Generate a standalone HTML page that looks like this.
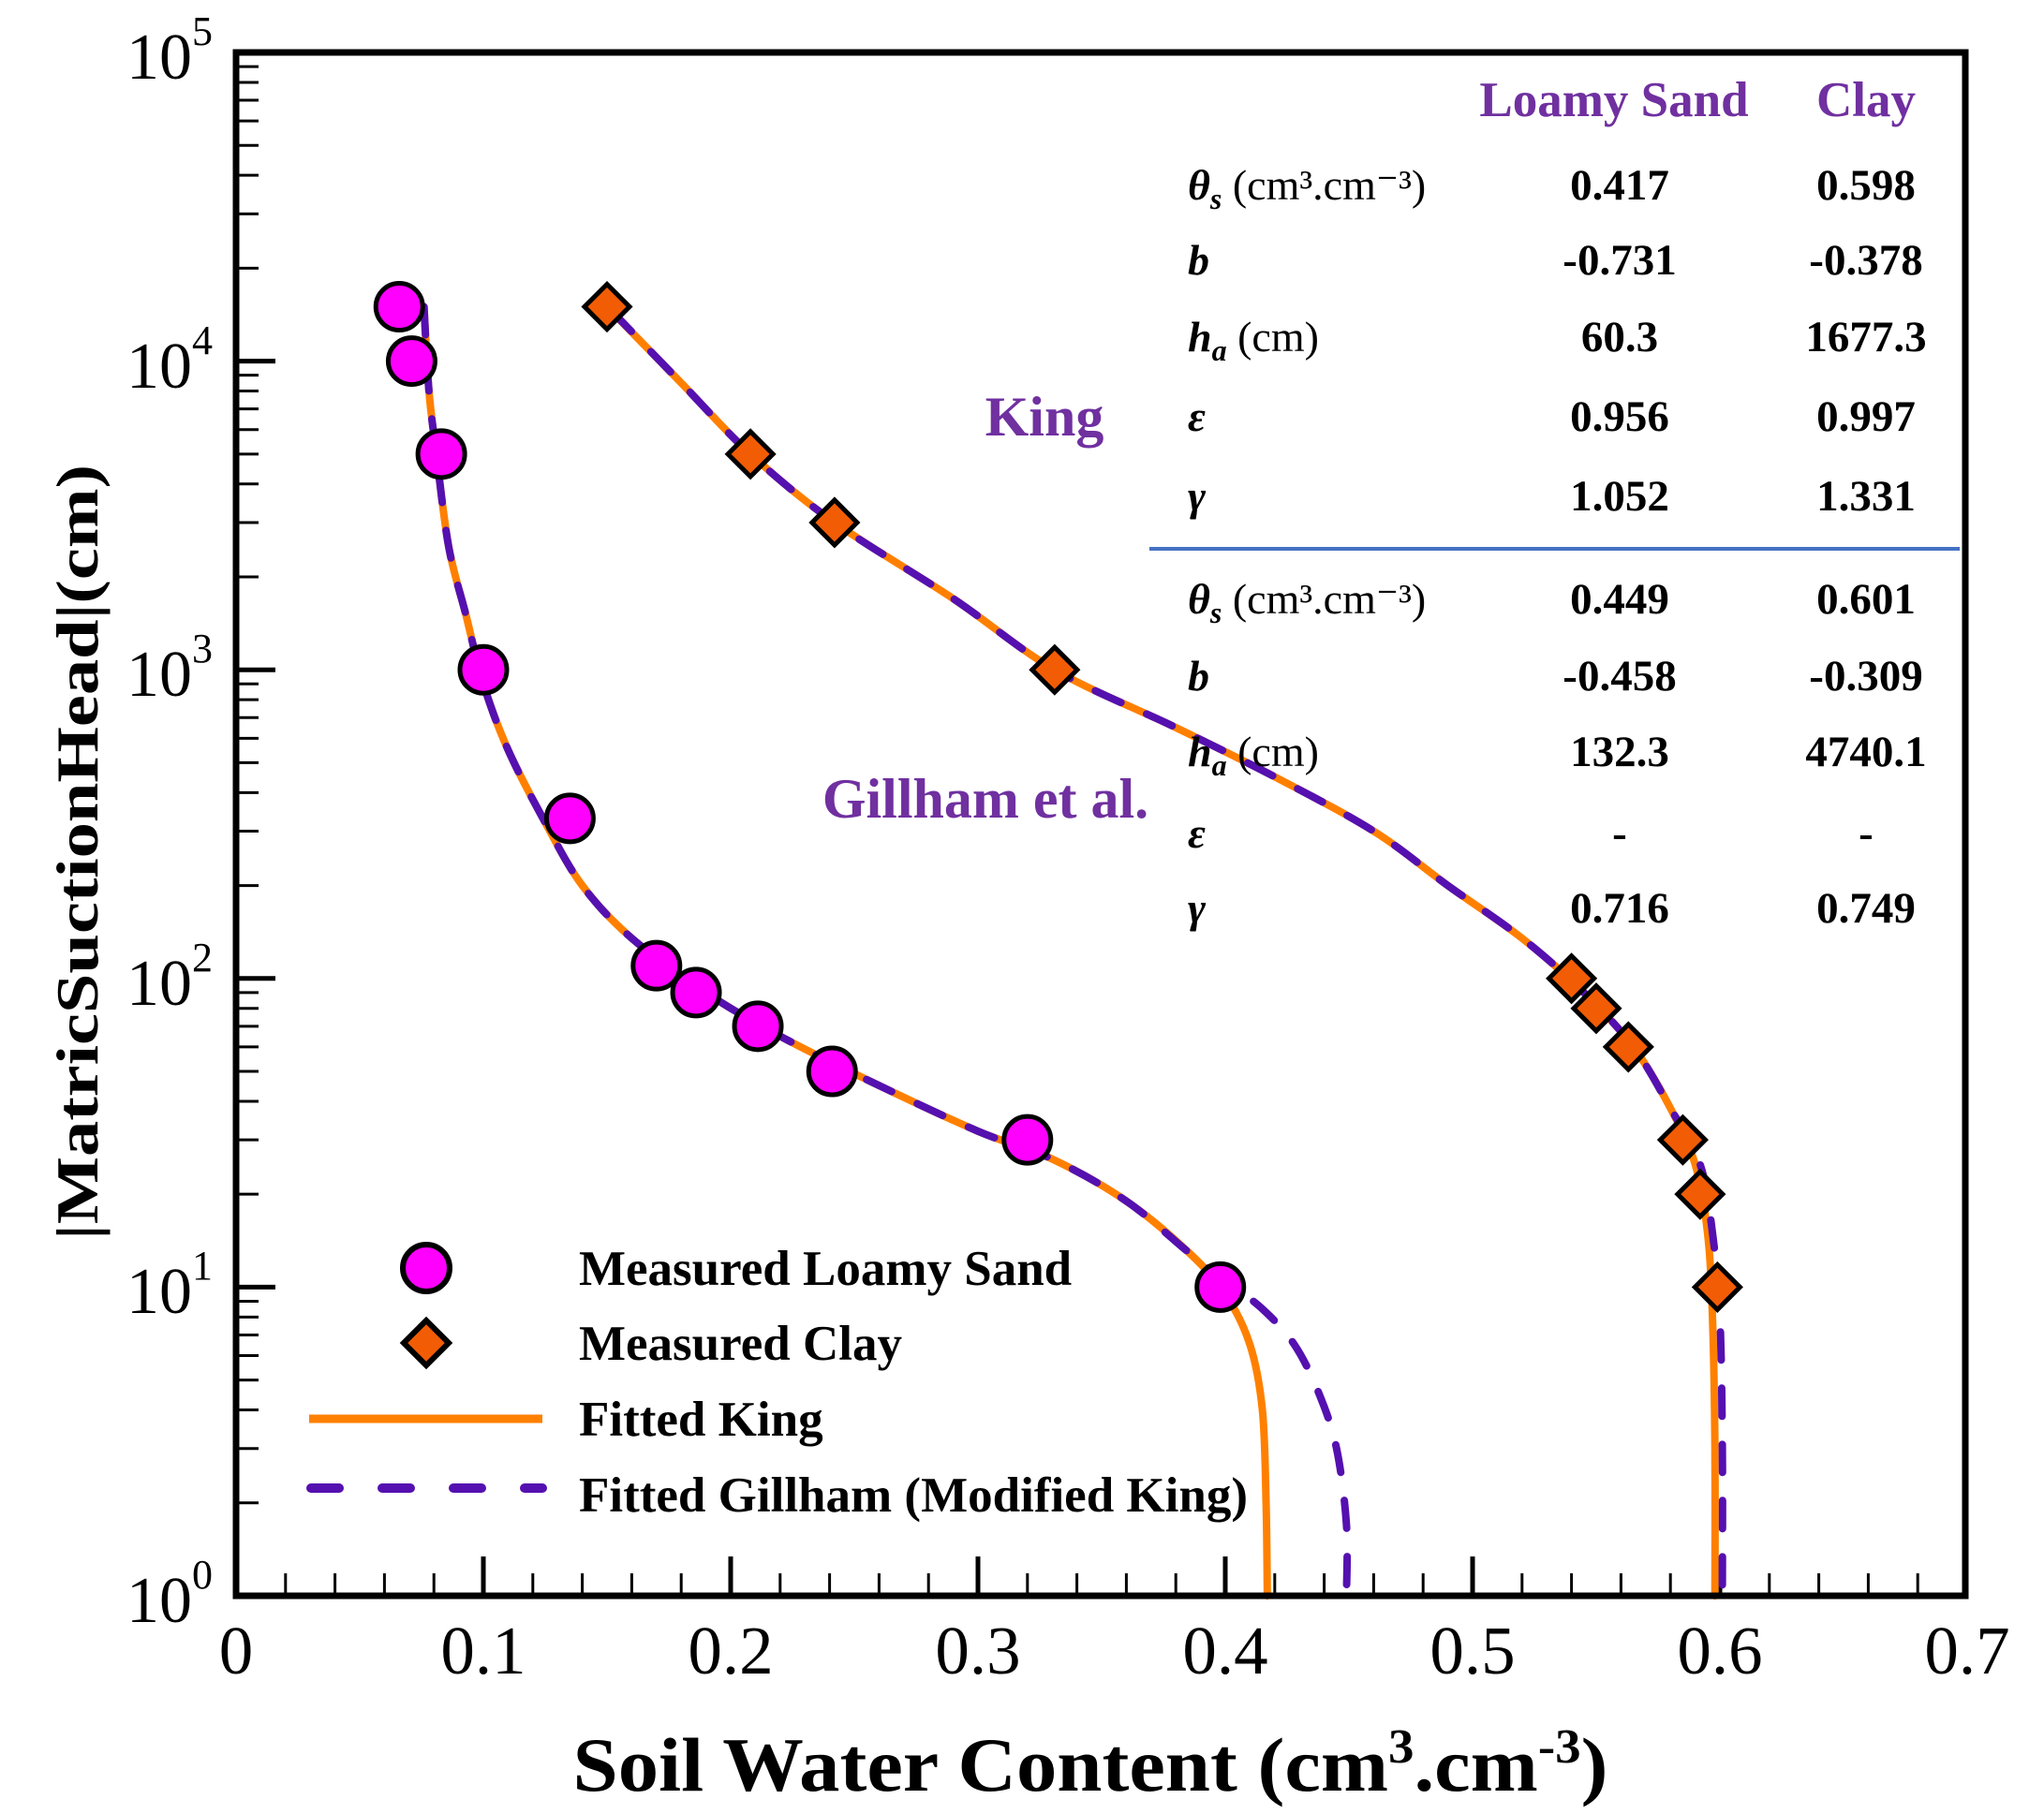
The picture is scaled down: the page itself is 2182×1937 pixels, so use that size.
<!DOCTYPE html>
<html><head><meta charset="utf-8">
<style>html,body{margin:0;padding:0;background:#fff;}svg{display:block;}
text{font-family:"Liberation Serif",serif;}</style></head>
<body>
<svg id="s" width="2182" height="1937" viewBox="0 0 2182 1937" xmlns="http://www.w3.org/2000/svg">
<rect width="2182" height="1937" fill="#fff"/>
<g id="ticks" stroke="#000"></g>
<g id="curves" fill="none" stroke-linecap="round" stroke-linejoin="round"></g>
<g id="marks" stroke="#000" stroke-width="5"></g>
<rect x="252" y="56" width="1846" height="1648" fill="none" stroke="#000" stroke-width="7"/>

<g font-size="73" text-anchor="middle" fill="#000">
<text x="252" y="1787">0</text><text x="516" y="1787">0.1</text><text x="780" y="1787">0.2</text>
<text x="1044" y="1787">0.3</text><text x="1308" y="1787">0.4</text><text x="1572" y="1787">0.5</text>
<text x="1836" y="1787">0.6</text><text x="2100" y="1787">0.7</text>
</g>
<g font-size="70" fill="#000">
<text x="135" y="1732">10<tspan font-size="44" dy="-36">0</tspan></text>
<text x="135" y="1402">10<tspan font-size="44" dy="-36">1</tspan></text>
<text x="135" y="1073">10<tspan font-size="44" dy="-36">2</tspan></text>
<text x="135" y="743">10<tspan font-size="44" dy="-36">3</tspan></text>
<text x="135" y="414">10<tspan font-size="44" dy="-36">4</tspan></text>
<text x="135" y="84">10<tspan font-size="44" dy="-36">5</tspan></text>
</g>
<text x="1164" y="1912" font-size="82" font-weight="bold" text-anchor="middle" textLength="1105" lengthAdjust="spacingAndGlyphs">Soil Water Content (cm<tspan font-size="52" dy="-30">3</tspan><tspan dy="30">.cm</tspan><tspan font-size="52" dy="-30">-3</tspan><tspan dy="30">)</tspan></text>
<text transform="translate(104,910) rotate(-90)" font-size="64" font-weight="bold" text-anchor="middle" textLength="828" lengthAdjust="spacingAndGlyphs">|MatricSuctionHead|(cm)</text>

<g font-size="53" font-weight="bold" fill="#7030a0" text-anchor="middle">
<text x="1723" y="124">Loamy Sand</text><text x="1992" y="124">Clay</text>
</g>
<g font-size="60" font-weight="bold" fill="#7030a0" text-anchor="middle">
<text x="1115" y="465">King</text><text x="1052" y="873">Gillham et al.</text>
</g>
<line x1="1227" y1="586" x2="2092" y2="586" stroke="#4472c4" stroke-width="4"/>
<g font-size="44" fill="#000" id="tbl"></g>

<circle cx="455" cy="1354" r="25" fill="#ff00ff" stroke="#000" stroke-width="6"/>
<rect x="438" y="1417" width="34" height="34" fill="#f25c05" stroke="#000" stroke-width="6" transform="rotate(45 455 1434)"/>
<line x1="330" y1="1515" x2="579" y2="1515" stroke="#ff8000" stroke-width="9"/>
<line x1="332" y1="1589" x2="579" y2="1589" stroke="#5510b0" stroke-width="10" stroke-dasharray="30 46" stroke-linecap="round"/>
<g font-size="53" font-weight="bold" fill="#000">
<text x="618" y="1372">Measured Loamy Sand</text>
<text x="618" y="1452">Measured Clay</text>
<text x="618" y="1533">Fitted King</text>
<text x="618" y="1614">Fitted Gillham (Modified King)</text>
</g>
</svg>
<script>
const NS="http://www.w3.org/2000/svg";
const X=t=>252+t*2640, Y=h=>1704-329.6*Math.log10(h);
function el(p,tag,a){const e=document.createElementNS(NS,tag);for(const k in a)e.setAttribute(k,a[k]);p.appendChild(e);return e;}
const tk=document.getElementById('ticks');
for(let i=0;i<=35;i++){const x=252+i*52.8;const maj=i%5==0;if(i==0||i==35)continue;
 el(tk,'line',{x1:x,x2:x,y1:1704,y2:maj?1662:1680,'stroke-width':maj?5:3});}
for(let d=0;d<5;d++)for(let m=1;m<=9;m++){const y=Y(m*Math.pow(10,d));const maj=m==1;if(d==0&&m==1)continue;
 el(tk,'line',{x1:252,x2:maj?294:276,y1:y,y2:y,'stroke-width':maj?5:3});}
function path(pts){let s=pts.map(p=>[X(p[0]),Y(p[1])]);
 let d='M'+s[0][0]+','+s[0][1];
 for(let i=0;i<s.length-1;i++){const p0=s[Math.max(0,i-1)],p1=s[i],p2=s[i+1],p3=s[Math.min(s.length-1,i+2)];
  d+=' C'+(p1[0]+(p2[0]-p0[0])/6)+','+(p1[1]+(p2[1]-p0[1])/6)+' '+(p2[0]-(p3[0]-p1[0])/6)+','+(p2[1]-(p3[1]-p1[1])/6)+' '+p2[0]+','+p2[1];}
 return d;}
const lsTop=[[0.076,15000],[0.078,8000],[0.081,5000],[0.086,2500],[0.093,1500],[0.1,900],[0.11,550],[0.125,320],[0.14,200],[0.16,135],[0.19,90],[0.22,65],[0.26,45],[0.3,32],[0.33,26],[0.36,19]];
const lsK=lsTop.concat([[0.385,13],[0.4,9.5],[0.41,6.5],[0.415,4],[0.4165,2],[0.417,1]]);
const lsG=lsTop.concat([[0.385,13],[0.4,10.5],[0.415,8.5],[0.428,6.5],[0.438,4.5],[0.445,3],[0.449,1.7],[0.449,1]]);
const clK=[[0.15,15000],[0.18,8500],[0.208,5000],[0.242,3000],[0.29,1700],[0.331,1000],[0.38,650],[0.42,450],[0.46,300],[0.49,200],[0.52,135],[0.545,90],[0.565,60],[0.58,38],[0.59,25],[0.595,15],[0.597,8],[0.598,3],[0.598,1]];
const clG=[[0.152,14500],[0.18,8500],[0.208,5000],[0.242,3000],[0.29,1700],[0.331,1000],[0.38,650],[0.42,450],[0.46,300],[0.49,200],[0.52,135],[0.545,90],[0.565,60],[0.58,38],[0.592,25],[0.597,15],[0.6,8],[0.601,3],[0.601,1]];
const cv=document.getElementById('curves');
el(cv,'path',{d:path(lsK),stroke:'#ff8000','stroke-width':8});
el(cv,'path',{d:path(clK),stroke:'#ff8000','stroke-width':8});
el(cv,'path',{d:path(lsG),stroke:'#5510b0','stroke-width':8,'stroke-dasharray':'30 30'});
el(cv,'path',{d:path(clG),stroke:'#5510b0','stroke-width':8,'stroke-dasharray':'30 30'});
const mk=document.getElementById('marks');
[[0.066,15000],[0.071,10000],[0.083,5000],[0.1,1000],[0.135,330],[0.17,110],[0.186,90],[0.211,70],[0.241,50],[0.32,30],[0.398,10]].forEach(p=>el(mk,'circle',{cx:X(p[0]),cy:Y(p[1]),r:25,fill:'#ff00ff'}));
[[0.15,15000],[0.208,5000],[0.242,3000],[0.331,1000],[0.54,100],[0.55,80],[0.563,60],[0.585,30],[0.592,20],[0.599,10]].forEach(p=>{const x=X(p[0]),y=Y(p[1]);el(mk,'rect',{x:x-17,y:y-17,width:34,height:34,fill:'#f25c05',transform:`rotate(45 ${x} ${y})`});});
const tb=document.getElementById('tbl');
const rows=[[213,'θ','s',' (cm³.cm⁻³)','0.417','0.598'],[293,'b','','','-0.731','-0.378'],[375,'h','a',' (cm)','60.3','1677.3'],[460,'ε','','','0.956','0.997'],[545,'γ','','','1.052','1.331'],
[655,'θ','s',' (cm³.cm⁻³)','0.449','0.601'],[737,'b','','','-0.458','-0.309'],[818,'h','a',' (cm)','132.3','4740.1'],[905,'ε','','','-','-'],[985,'γ','','','0.716','0.749']];
rows.forEach(r=>{const t=el(tb,'text',{x:1268,y:r[0],'font-size':46});
 const a=el(t,'tspan',{'font-weight':'bold','font-style':'italic'});a.textContent=r[1];
 if(r[2]){const s=el(t,'tspan',{'font-weight':'bold','font-style':'italic','font-size':32,dy:10});s.textContent=r[2];
  const u=el(t,'tspan',{dy:-10});u.textContent=r[3];}
 const v1=el(tb,'text',{x:1729,y:r[0],'text-anchor':'middle','font-weight':'bold','font-size':47});v1.textContent=r[4];
 const v2=el(tb,'text',{x:1992,y:r[0],'text-anchor':'middle','font-weight':'bold','font-size':47});v2.textContent=r[5];});
</script>
</body></html>
